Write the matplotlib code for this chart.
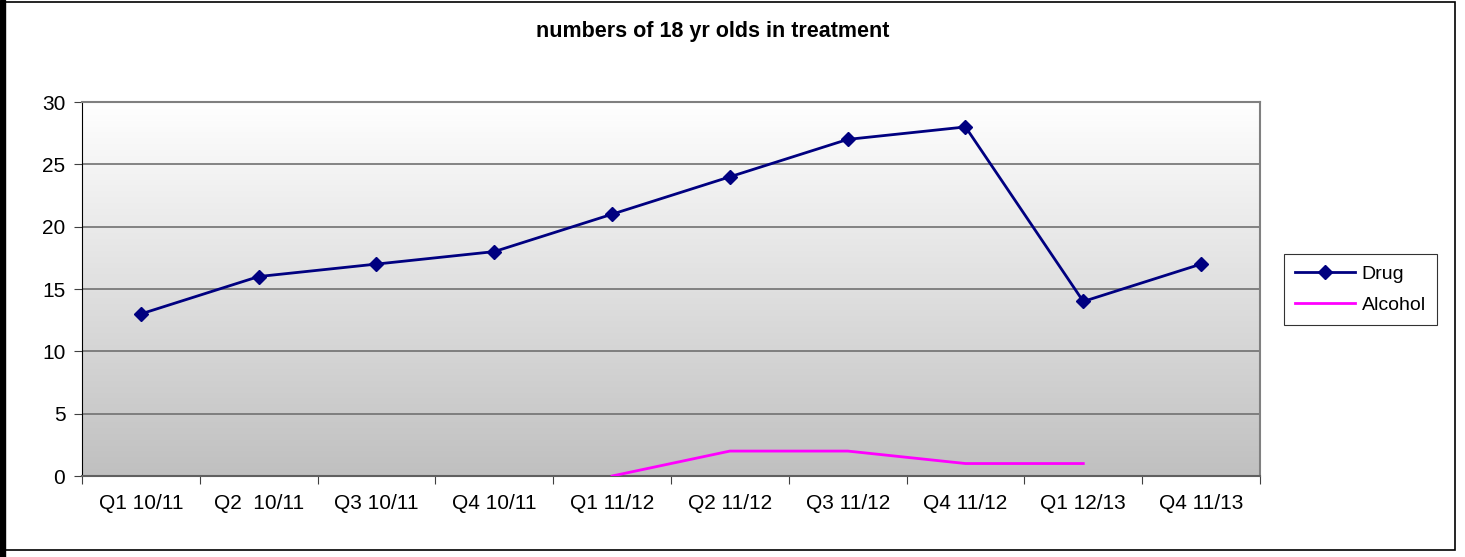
import numpy as np
import matplotlib
matplotlib.use("Agg")
import matplotlib.pyplot as plt
from matplotlib.patches import Rectangle

categories = ["Q1 10/11", "Q2  10/11", "Q3 10/11", "Q4 10/11", "Q1 11/12",
              "Q2 11/12", "Q3 11/12", "Q4 11/12", "Q1 12/13", "Q4 11/13"]
drug = [13, 16, 17, 18, 21, 24, 27, 28, 14, 17]
alcohol = [np.nan, np.nan, np.nan, np.nan, 0, 2, 2, 1, 1, np.nan]
yticks = [0, 5, 10, 15, 20, 25, 30]

plt.rcParams['font.family'] = ['Liberation Sans', 'DejaVu Sans']

W, H = 1465, 557
fig = plt.figure(figsize=(W / 100, H / 100), dpi=100)
ax = fig.add_axes([82 / W, 1 - 476 / H, (1260 - 82) / W, (476 - 102) / H])

n = len(categories)
x = np.arange(n)
ax.set_xlim(-0.5, n - 0.5)
ax.set_ylim(0, 30)

# gradient background
grad = np.linspace(0, 1, 256).reshape(-1, 1)
cmap = matplotlib.colors.LinearSegmentedColormap.from_list("g", ["#c0c0c0", "#ffffff"])
ax.imshow(grad, aspect='auto', cmap=cmap, origin='lower',
          extent=[-0.5, n - 0.5, 0, 30], zorder=0)

for yv in yticks[1:]:
    ax.axhline(yv, color='#707070', lw=1.2, zorder=1)

ax.plot(x, drug, color='#000080', lw=2, marker='D', markersize=7,
        label='Drug', zorder=3)
ax.plot(x, alcohol, color='#ff00ff', lw=2, label='Alcohol', zorder=3)

ax.set_yticks(yticks)
ax.set_yticklabels([str(v) for v in yticks], fontsize=15)
ax.set_xticks(np.arange(n + 1) - 0.5, minor=False)
ax.set_xticklabels([])
ax.set_xticks(x, minor=True)
ax.set_xticklabels(categories, minor=True, fontsize=15)
ax.tick_params(axis='x', which='minor', length=0, pad=13)
ax.tick_params(axis='x', which='major', length=6, color='#404040', direction='out')
ax.tick_params(axis='y', length=6, color='#404040', pad=6)

for s in ['top', 'right']:
    ax.spines[s].set_color('#808080')
    ax.spines[s].set_linewidth(1.5)
ax.spines['left'].set_color('black')
ax.spines['bottom'].set_color('#606060')
ax.spines['bottom'].set_linewidth(1.5)

fig.text(713 / W, 1 - 31 / H, "numbers of 18 yr olds in treatment",
         ha='center', va='center', fontsize=15.5, fontweight='bold')

leg = ax.legend(loc='center left', bbox_to_anchor=(1284 / W, 1 - 289.5 / H),
                bbox_transform=fig.transFigure, fontsize=14, frameon=True,
                fancybox=False, edgecolor='black', handlelength=3.1,
                handletextpad=0.35, borderpad=0.55, labelspacing=0.7,
                borderaxespad=0)
leg.get_frame().set_linewidth(0.8)

# figure frame
fig.patches.append(Rectangle((0.002, 0.012), 0.991, 0.985, transform=fig.transFigure,
                             fill=False, edgecolor='black', lw=1.2))
fig.patches.append(Rectangle((0, 0), 0.0035, 1, transform=fig.transFigure,
                             color='black'))

fig.savefig("out.png", dpi=100, facecolor='white')
